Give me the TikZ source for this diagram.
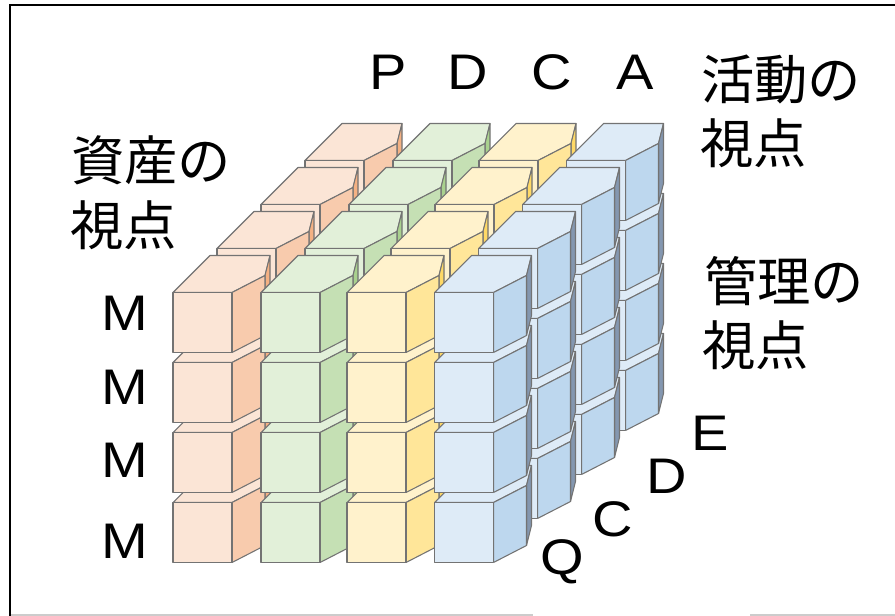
\documentclass[tikz,border=0pt]{standalone}
\usepackage{graphicx}
\usepackage{fontspec}
\setmainfont{Liberation Sans}
\newfontfamily\jpfont{Noto Sans CJK JP}

% one block: x, y, front, right, sliver
\newcommand{\blk}[5]{
  \draw[blkline,fill=#3] (#1,#2) -- ++(37,-37) -- ++(60,0) -- ++(-5,20) -- ++(-33,17) -- cycle;
  \draw[blkline,fill=#5] (#1+92,#2-17) -- ++(5,-20) -- ++(0,60) -- ++(-5,20) -- cycle;
  \draw[blkline,fill=#4] (#1+59,#2) -- ++(33,-17) -- ++(0,60) -- ++(-33,17) -- cycle;
  \draw[blkline,fill=#3] (#1,#2) rectangle ++(59,60);
}
% latin letters are a little wide in the picture
\newcommand{\wlat}[1]{\scalebox{1.12}[1]{#1}}

\definecolor{ofr}{HTML}{FBE5D6}
\definecolor{ori}{HTML}{F8CBAD}
\definecolor{osl}{HTML}{F4B183}
\definecolor{gfr}{HTML}{E2F0D9}
\definecolor{gri}{HTML}{C5E0B4}
\definecolor{gsl}{HTML}{A9D18E}
\definecolor{yfr}{HTML}{FFF2CC}
\definecolor{yri}{HTML}{FFE699}
\definecolor{ysl}{HTML}{FFD966}
\definecolor{bfr}{HTML}{DEEBF7}
\definecolor{bri}{HTML}{BDD7EE}
\definecolor{bsl}{HTML}{8497B0}

\tikzset{
  blkline/.style={draw=black!55,line width=0.8pt,line join=round},
  lat/.style={font=\fontsize{37.5}{37.5}\selectfont,inner sep=0pt},
  jp/.style={font=\fontsize{40}{40}\selectfont\jpfont,inner sep=0pt,anchor=west},
}

\begin{document}
\begin{tikzpicture}[x=0.75pt,y=-0.75pt]
    \useasboundingbox (0,0) rectangle (895,616);

    % draw frame
    \draw[black!20,line width=1pt] (10,615) -- (533,615);
    \draw[black!20,line width=1pt] (750,615) -- (895,615);
    \draw[line width=2pt] (895,5) -- (10,5) -- (10,616);

    % draw blocks, back to front
    \foreach \dep/\dx/\dy in {3/132/-132,2/88/-88,1/44/-44,0/0/0}
      \foreach \cx/\fr/\rt/\sv in {173/ofr/ori/osl,261/gfr/gri/gsl,347/yfr/yri/ysl,434.5/bfr/bri/bsl}
        \foreach \ry in {502.5,432.5,362.5,292.5}
          \blk{\cx+\dx}{\ry+\dy}{\fr}{\rt}{\sv};

    % draw labels
    \node[lat] (p) at (388,72) {\wlat{P}};
    \node[lat] (d) at (468,72) {\wlat{D}};
    \node[lat] (c) at (552,72) {\wlat{C}};
    \node[lat] (a) at (635,72) {\wlat{A}};
    \node[lat] (m1) at (125,313) {\wlat{M}};
    \node[lat] (m2) at (125,387) {\wlat{M}};
    \node[lat] (m3) at (125,460) {\wlat{M}};
    \node[lat] (m4) at (125,541) {\wlat{M}};
    \node[lat] (q) at (562,562) {\wlat{Q}};
    \node[lat] (c2) at (613,519) {\wlat{C}};
    \node[lat] (d2) at (667,476) {\wlat{D}};
    \node[lat] (e) at (710,433) {\wlat{E}};
    \node[jp] (act1) at (701,79) {活動の};
    \node[jp] (act2) at (700,143) {視点};
    \node[jp] (ass1) at (71,160) {資産の};
    \node[jp] (ass2) at (70,225) {視点};
    \node[jp] (mgt1) at (704,281) {管理の};
    \node[jp] (mgt2) at (702,345) {視点};
\end{tikzpicture}
\end{document}
